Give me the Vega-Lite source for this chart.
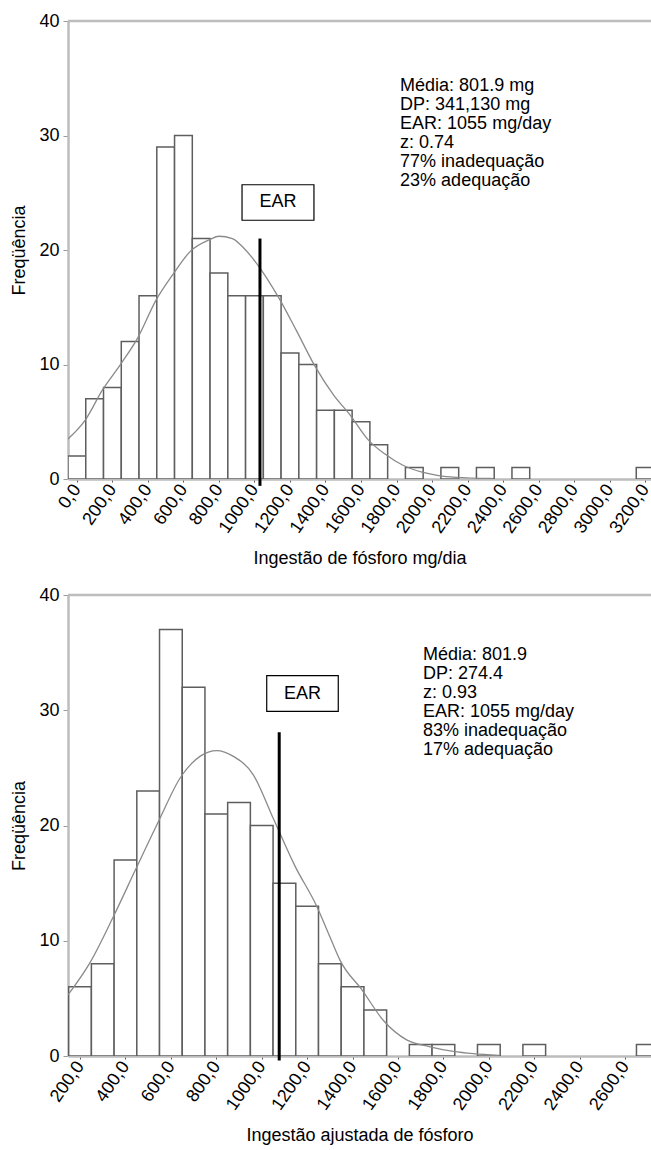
{
  "$schema": "https://vega.github.io/schema/vega-lite/v6.json",
  "padding": {"left": 10, "top": 12, "right": 0, "bottom": 5},
  "spacing": 18,
  "config": {
    "font": "Liberation Sans",
    "view": {"stroke": null},
    "axis": {
      "labelFont": "Liberation Sans",
      "titleFont": "Liberation Sans",
      "labelFontSize": 18,
      "titleFontSize": 18,
      "titleFontWeight": "normal",
      "labelColor": "#000000",
      "titleColor": "#000000",
      "grid": false,
      "domainColor": "#bdbdbd",
      "domainWidth": 2.5
    },
    "axisX": {
      "labelExpr": "replace(format(datum.value, '.1f'), '.', ',')",
      "labelAngle": -55, "labelAlign": "right", "labelBaseline": "middle",
      "tickSize": 3, "tickColor": "#555555", "labelPadding": 4, "titlePadding": 13,
      "labelOverlap": false, "labelFlush": false
    },
    "axisY": {"tickSize": 5, "tickColor": "#9a9a9a", "labelPadding": 4, "titlePadding": 10},
    "text": {"font": "Liberation Sans"}
  },
  "vconcat": [
    {
      "width": 583,
      "height": 458,
      "layer": [
        {
          "data": {"values": [
            {"lo": -50, "hi": 50, "n": 2}, {"lo": 50, "hi": 150, "n": 7}, {"lo": 150, "hi": 250, "n": 8},
            {"lo": 250, "hi": 350, "n": 12}, {"lo": 350, "hi": 450, "n": 16}, {"lo": 450, "hi": 550, "n": 29},
            {"lo": 550, "hi": 650, "n": 30}, {"lo": 650, "hi": 750, "n": 21}, {"lo": 750, "hi": 850, "n": 18},
            {"lo": 850, "hi": 950, "n": 16}, {"lo": 950, "hi": 1050, "n": 16}, {"lo": 1050, "hi": 1150, "n": 16},
            {"lo": 1150, "hi": 1250, "n": 11}, {"lo": 1250, "hi": 1350, "n": 10}, {"lo": 1350, "hi": 1450, "n": 6},
            {"lo": 1450, "hi": 1550, "n": 6}, {"lo": 1550, "hi": 1650, "n": 5}, {"lo": 1650, "hi": 1750, "n": 3},
            {"lo": 1850, "hi": 1950, "n": 1}, {"lo": 2050, "hi": 2150, "n": 1}, {"lo": 2250, "hi": 2350, "n": 1},
            {"lo": 2450, "hi": 2550, "n": 1}, {"lo": 3150, "hi": 3250, "n": 1}
          ]},
          "mark": {"type": "rect", "fill": "#ffffff", "stroke": "#5e5e5e", "strokeWidth": 1.5, "clip": true},
          "encoding": {
            "x": {"field": "lo", "type": "quantitative",
              "scale": {"domain": [-50, 3233], "nice": false, "zero": false},
              "axis": {"values": [0,200,400,600,800,1000,1200,1400,1600,1800,2000,2200,2400,2600,2800,3000,3200], "labelOverlap": false},
              "title": "Ingestão de fósforo mg/dia"},
            "x2": {"field": "hi"},
            "y": {"field": "n", "type": "quantitative",
              "scale": {"domain": [0, 40], "nice": false},
              "axis": {"values": [0, 10, 20, 30, 40], "labelOverlap": false},
              "title": "Freqüência"},
            "y2": {"datum": 0}
          }
        },
        {
          "data": {"values": [{"v": 40}]},
          "mark": {"type": "rule", "color": "#bdbdbd", "strokeWidth": 2.5},
          "encoding": {"y": {"field": "v", "type": "quantitative", "title": "Freqüência", "axis": {"values": [0, 10, 20, 30, 40], "labelOverlap": false}}}
        },
        {
          "data": {"values": [
            {"x": -50, "y": 3.5}, {"x": 45, "y": 5.1}, {"x": 145, "y": 7.8}, {"x": 250, "y": 10.1},
            {"x": 342, "y": 12.3}, {"x": 445, "y": 15.6}, {"x": 538, "y": 17.8}, {"x": 640, "y": 19.9},
            {"x": 747, "y": 20.9}, {"x": 800, "y": 21.2}, {"x": 875, "y": 21.0}, {"x": 950, "y": 20.0},
            {"x": 1032, "y": 18.4}, {"x": 1134, "y": 15.9}, {"x": 1235, "y": 13.0}, {"x": 1339, "y": 9.9},
            {"x": 1447, "y": 7.3}, {"x": 1538, "y": 5.6}, {"x": 1642, "y": 3.4}, {"x": 1733, "y": 2.2},
            {"x": 1836, "y": 1.2}, {"x": 1944, "y": 0.6}, {"x": 2037, "y": 0.3}, {"x": 2134, "y": 0.15},
            {"x": 2335, "y": 0.05}
          ]},
          "mark": {"type": "line", "color": "#8a8a8a", "strokeWidth": 1.3, "interpolate": "monotone", "clip": true},
          "encoding": {
            "x": {"field": "x", "type": "quantitative", "title": "Ingestão de fósforo mg/dia", "axis": {"values": [0,200,400,600,800,1000,1200,1400,1600,1800,2000,2200,2400,2600,2800,3000,3200], "labelOverlap": false}},
            "y": {"field": "y", "type": "quantitative", "title": "Freqüência", "axis": {"values": [0, 10, 20, 30, 40], "labelOverlap": false}}
          }
        },
        {
          "data": {"values": [{"ear": 1031, "top": 21, "bottom": -0.6}]},
          "mark": {"type": "rule", "color": "#000000", "strokeWidth": 3},
          "encoding": {
            "x": {"field": "ear", "type": "quantitative", "title": "Ingestão de fósforo mg/dia", "axis": {"values": [0,200,400,600,800,1000,1200,1400,1600,1800,2000,2200,2400,2600,2800,3000,3200], "labelOverlap": false}},
            "y": {"field": "top", "type": "quantitative", "title": "Freqüência", "axis": {"values": [0, 10, 20, 30, 40], "labelOverlap": false}},
            "y2": {"field": "bottom"}
          }
        },
        {
          "data": {"values": [{"x1": 930, "x2": 1335, "y1": 22.6, "y2": 25.7}]},
          "mark": {"type": "rect", "fill": "#ffffff", "stroke": "#000000", "strokeWidth": 1.2},
          "encoding": {
            "x": {"field": "x1", "type": "quantitative", "title": "Ingestão de fósforo mg/dia", "axis": {"values": [0,200,400,600,800,1000,1200,1400,1600,1800,2000,2200,2400,2600,2800,3000,3200], "labelOverlap": false}},
            "x2": {"field": "x2"},
            "y": {"field": "y1", "type": "quantitative", "title": "Freqüência", "axis": {"values": [0, 10, 20, 30, 40], "labelOverlap": false}},
            "y2": {"field": "y2"}
          }
        },
        {
          "data": {"values": [{"x": 1132, "y": 24.15, "label": "EAR"}]},
          "mark": {"type": "text", "fontSize": 18, "align": "center", "baseline": "middle", "color": "#000000"},
          "encoding": {
            "x": {"field": "x", "type": "quantitative", "title": "Ingestão de fósforo mg/dia", "axis": {"values": [0,200,400,600,800,1000,1200,1400,1600,1800,2000,2200,2400,2600,2800,3000,3200], "labelOverlap": false}},
            "y": {"field": "y", "type": "quantitative", "title": "Freqüência", "axis": {"values": [0, 10, 20, 30, 40], "labelOverlap": false}},
            "text": {"field": "label"}
          }
        },
        {
          "data": {"values": [{"x": 1820, "y": 35.1, "label": "Média: 801.9 mg\nDP: 341,130 mg\nEAR: 1055 mg/day\nz: 0.74\n77% inadequação\n23% adequação"}]},
          "mark": {"type": "text", "fontSize": 18, "align": "left", "baseline": "top", "lineBreak": "\n", "lineHeight": 19, "color": "#000000"},
          "encoding": {
            "x": {"field": "x", "type": "quantitative", "title": "Ingestão de fósforo mg/dia", "axis": {"values": [0,200,400,600,800,1000,1200,1400,1600,1800,2000,2200,2400,2600,2800,3000,3200], "labelOverlap": false}},
            "y": {"field": "y", "type": "quantitative", "title": "Freqüência", "axis": {"values": [0, 10, 20, 30, 40], "labelOverlap": false}},
            "text": {"field": "label"}
          }
        }
      ]
    },
    {
      "width": 583,
      "height": 461,
      "layer": [
        {
          "data": {"values": [
            {"lo": 150, "hi": 250, "n": 6}, {"lo": 250, "hi": 350, "n": 8}, {"lo": 350, "hi": 450, "n": 17},
            {"lo": 450, "hi": 550, "n": 23}, {"lo": 550, "hi": 650, "n": 37}, {"lo": 650, "hi": 750, "n": 32},
            {"lo": 750, "hi": 850, "n": 21}, {"lo": 850, "hi": 950, "n": 22}, {"lo": 950, "hi": 1050, "n": 20},
            {"lo": 1050, "hi": 1150, "n": 15}, {"lo": 1150, "hi": 1250, "n": 13}, {"lo": 1250, "hi": 1350, "n": 8},
            {"lo": 1350, "hi": 1450, "n": 6}, {"lo": 1450, "hi": 1550, "n": 4}, {"lo": 1650, "hi": 1750, "n": 1},
            {"lo": 1750, "hi": 1850, "n": 1}, {"lo": 1950, "hi": 2050, "n": 1}, {"lo": 2150, "hi": 2250, "n": 1},
            {"lo": 2650, "hi": 2750, "n": 1}
          ]},
          "mark": {"type": "rect", "fill": "#ffffff", "stroke": "#5e5e5e", "strokeWidth": 1.5, "clip": true},
          "encoding": {
            "x": {"field": "lo", "type": "quantitative",
              "scale": {"domain": [147, 2714], "nice": false, "zero": false},
              "axis": {"values": [200,400,600,800,1000,1200,1400,1600,1800,2000,2200,2400,2600], "labelOverlap": false},
              "title": "Ingestão ajustada de fósforo"},
            "x2": {"field": "hi"},
            "y": {"field": "n", "type": "quantitative",
              "scale": {"domain": [0, 40], "nice": false},
              "axis": {"values": [0, 10, 20, 30, 40], "labelOverlap": false},
              "title": "Freqüência"},
            "y2": {"datum": 0}
          }
        },
        {
          "data": {"values": [{"v": 40}]},
          "mark": {"type": "rule", "color": "#bdbdbd", "strokeWidth": 2.5},
          "encoding": {"y": {"field": "v", "type": "quantitative", "title": "Freqüência", "axis": {"values": [0, 10, 20, 30, 40], "labelOverlap": false}}}
        },
        {
          "data": {"values": [
            {"x": 147, "y": 5.3}, {"x": 244, "y": 8.1}, {"x": 347, "y": 12.1}, {"x": 445, "y": 16.2},
            {"x": 549, "y": 20.5}, {"x": 640, "y": 24.1}, {"x": 728, "y": 26.0}, {"x": 802, "y": 26.5},
            {"x": 875, "y": 26.0}, {"x": 963, "y": 24.4}, {"x": 1051, "y": 20.6}, {"x": 1146, "y": 16.5},
            {"x": 1242, "y": 13.0}, {"x": 1301, "y": 10.3}, {"x": 1345, "y": 8.3}, {"x": 1443, "y": 5.7},
            {"x": 1535, "y": 3.1}, {"x": 1638, "y": 1.4}, {"x": 1741, "y": 0.8}, {"x": 1844, "y": 0.4},
            {"x": 1932, "y": 0.2}, {"x": 2045, "y": 0.05}
          ]},
          "mark": {"type": "line", "color": "#8a8a8a", "strokeWidth": 1.3, "interpolate": "monotone", "clip": true},
          "encoding": {
            "x": {"field": "x", "type": "quantitative", "title": "Ingestão ajustada de fósforo", "axis": {"values": [200,400,600,800,1000,1200,1400,1600,1800,2000,2200,2400,2600], "labelOverlap": false}},
            "y": {"field": "y", "type": "quantitative", "title": "Freqüência", "axis": {"values": [0, 10, 20, 30, 40], "labelOverlap": false}}
          }
        },
        {
          "data": {"values": [{"ear": 1077, "top": 28.1, "bottom": -0.4}]},
          "mark": {"type": "rule", "color": "#000000", "strokeWidth": 3},
          "encoding": {
            "x": {"field": "ear", "type": "quantitative", "title": "Ingestão ajustada de fósforo", "axis": {"values": [200,400,600,800,1000,1200,1400,1600,1800,2000,2200,2400,2600], "labelOverlap": false}},
            "y": {"field": "top", "type": "quantitative", "title": "Freqüência", "axis": {"values": [0, 10, 20, 30, 40], "labelOverlap": false}},
            "y2": {"field": "bottom"}
          }
        },
        {
          "data": {"values": [{"x1": 1022, "x2": 1337, "y1": 29.9, "y2": 33.0}]},
          "mark": {"type": "rect", "fill": "#ffffff", "stroke": "#000000", "strokeWidth": 1.2},
          "encoding": {
            "x": {"field": "x1", "type": "quantitative", "title": "Ingestão ajustada de fósforo", "axis": {"values": [200,400,600,800,1000,1200,1400,1600,1800,2000,2200,2400,2600], "labelOverlap": false}},
            "x2": {"field": "x2"},
            "y": {"field": "y1", "type": "quantitative", "title": "Freqüência", "axis": {"values": [0, 10, 20, 30, 40], "labelOverlap": false}},
            "y2": {"field": "y2"}
          }
        },
        {
          "data": {"values": [{"x": 1180, "y": 31.45, "label": "EAR"}]},
          "mark": {"type": "text", "fontSize": 18, "align": "center", "baseline": "middle", "color": "#000000"},
          "encoding": {
            "x": {"field": "x", "type": "quantitative", "title": "Ingestão ajustada de fósforo", "axis": {"values": [200,400,600,800,1000,1200,1400,1600,1800,2000,2200,2400,2600], "labelOverlap": false}},
            "y": {"field": "y", "type": "quantitative", "title": "Freqüência", "axis": {"values": [0, 10, 20, 30, 40], "labelOverlap": false}},
            "text": {"field": "label"}
          }
        },
        {
          "data": {"values": [{"x": 1710, "y": 35.6, "label": "Média: 801.9\nDP: 274.4\nz: 0.93\nEAR: 1055 mg/day\n83% inadequação\n17% adequação"}]},
          "mark": {"type": "text", "fontSize": 18, "align": "left", "baseline": "top", "lineBreak": "\n", "lineHeight": 19, "color": "#000000"},
          "encoding": {
            "x": {"field": "x", "type": "quantitative", "title": "Ingestão ajustada de fósforo", "axis": {"values": [200,400,600,800,1000,1200,1400,1600,1800,2000,2200,2400,2600], "labelOverlap": false}},
            "y": {"field": "y", "type": "quantitative", "title": "Freqüência", "axis": {"values": [0, 10, 20, 30, 40], "labelOverlap": false}},
            "text": {"field": "label"}
          }
        }
      ]
    }
  ]
}
